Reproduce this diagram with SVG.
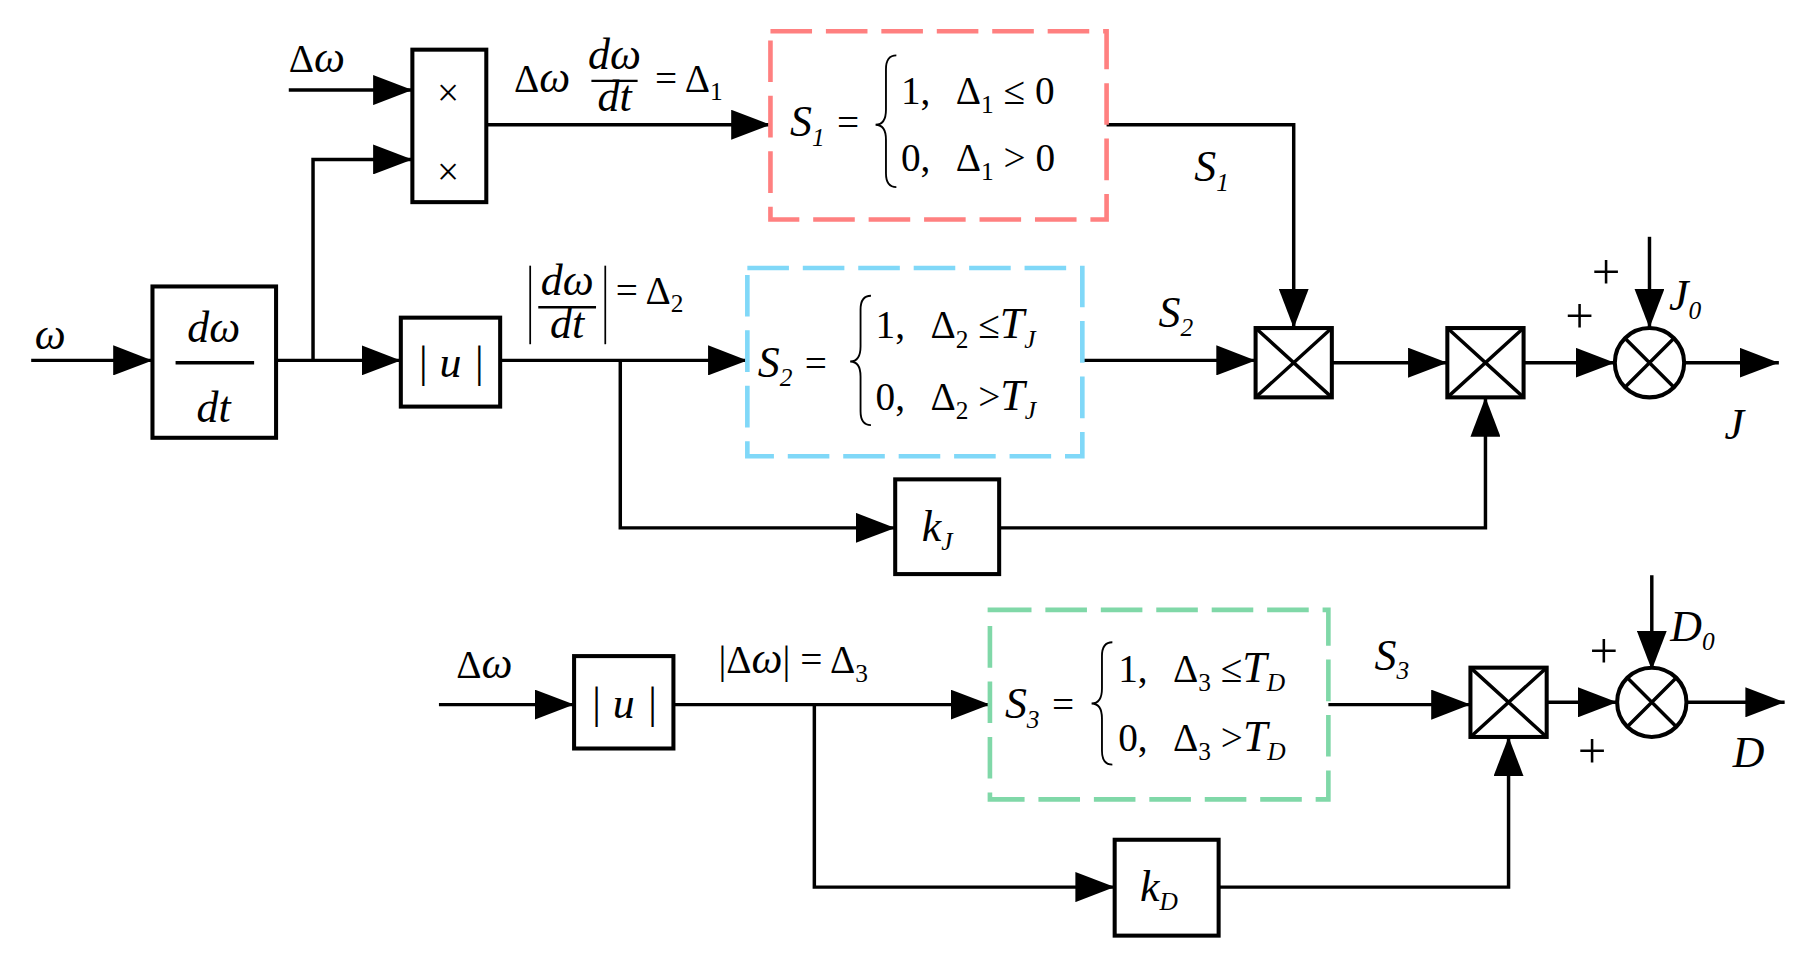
<svg xmlns="http://www.w3.org/2000/svg" width="1802" height="957" viewBox="0 0 1802 957">
<defs>
<marker id="ar" markerUnits="userSpaceOnUse" markerWidth="40" markerHeight="26" refX="34" refY="13" orient="auto"><path d="M0,0 L34,13 L0,26 Z" fill="#000"/></marker>
<style>
.ln{fill:none;stroke:#000;stroke-width:3}
.bx{fill:#fff;stroke:#000;stroke-width:3.5}
.t{font-family:"Liberation Serif",serif;font-style:italic;font-size:38px}
.u{font-family:"Liberation Serif",serif;font-size:34px}
.p{font-family:"Liberation Serif",serif;font-size:44px}
.s{font-family:"Liberation Serif",serif;font-size:22px}
.si{font-family:"Liberation Serif",serif;font-style:italic;font-size:22px}
.dr{fill:none;stroke:#FF8080;stroke-width:4;stroke-dasharray:36,12}
.db{fill:none;stroke:#80D8F8;stroke-width:4;stroke-dasharray:36,12}
.dg{fill:none;stroke:#80D8A8;stroke-width:4;stroke-dasharray:36,12}
.br{fill:none;stroke:#000;stroke-width:1.6}
</style>
</defs>
<rect width="1802" height="957" fill="#fff"/>
<g transform="scale(1.1551)">
<g id="connectors">
<path class="ln" d="M27,312 H132" marker-end="url(#ar)"/>
<path class="ln" d="M239,312 H347" marker-end="url(#ar)"/>
<path class="ln" d="M271,312 V138 H357" marker-end="url(#ar)"/>
<path class="ln" d="M250,78 H357" marker-end="url(#ar)"/>
<path class="ln" d="M421,108 H667" marker-end="url(#ar)"/>
<path class="ln" d="M433,312 H647" marker-end="url(#ar)"/>
<path class="ln" d="M537,312 V457 H775" marker-end="url(#ar)"/>
<path class="ln" d="M958,108 H1120 V284" marker-end="url(#ar)"/>
<path class="ln" d="M937,312 H1087" marker-end="url(#ar)"/>
<path class="ln" d="M1153,314 H1253" marker-end="url(#ar)"/>
<path class="ln" d="M865,457 H1286 V344" marker-end="url(#ar)"/>
<path class="ln" d="M1319,314 H1398" marker-end="url(#ar)"/>
<path class="ln" d="M1428,205 V284" marker-end="url(#ar)"/>
<path class="ln" d="M1458,314 H1540" marker-end="url(#ar)"/>
<path class="ln" d="M380,610 H497" marker-end="url(#ar)"/>
<path class="ln" d="M583,610 H857" marker-end="url(#ar)"/>
<path class="ln" d="M705,610 V768 H965" marker-end="url(#ar)"/>
<path class="ln" d="M1150,610 H1273" marker-end="url(#ar)"/>
<path class="ln" d="M1055,768 H1306 V638" marker-end="url(#ar)"/>
<path class="ln" d="M1339,608 H1400" marker-end="url(#ar)"/>
<path class="ln" d="M1430,498 V580" marker-end="url(#ar)"/>
<path class="ln" d="M1460,608 H1545" marker-end="url(#ar)"/>
</g>
<g id="labels">
<text class="t" x="30" y="302">ω</text>
<text class="u" x="250" y="62" font-size="38">Δ<tspan class="t">ω</tspan></text>
<text class="u" x="395" y="587" font-size="38">Δ<tspan class="t">ω</tspan></text>
<g id="eq1"><text class="u" x="445" y="80" font-size="28">Δ<tspan class="t" font-size="30">ω</tspan></text>
<text class="t" x="532" y="60" font-size="30" text-anchor="middle">dω</text>
<line x1="512" y1="70" x2="552" y2="70" stroke="#000" stroke-width="2"/>
<text class="t" x="532" y="96" font-size="30" text-anchor="middle">dt</text>
<text class="u" x="567" y="80" font-size="28">= Δ<tspan class="s" font-size="17" dy="7">1</tspan></text></g>
<g id="eq2"><line x1="459" y1="230" x2="459" y2="298" stroke="#000" stroke-width="1.5"/>
<line x1="524" y1="230" x2="524" y2="298" stroke="#000" stroke-width="1.5"/>
<text class="t" x="491" y="255" font-size="30" text-anchor="middle">dω</text>
<line x1="466" y1="266" x2="516" y2="266" stroke="#000" stroke-width="2"/>
<text class="t" x="491" y="293" font-size="30" text-anchor="middle">dt</text>
<text class="u" x="533" y="263" font-size="28">= Δ<tspan class="s" font-size="18" dy="7">2</tspan></text></g>
<g id="eq3"><text class="u" x="622" y="583" font-size="28">|Δ<tspan class="t">ω</tspan>| = Δ<tspan class="s" font-size="18" dy="7">3</tspan></text></g>
<text class="t" x="1034" y="157">S<tspan class="s" dy="8">1</tspan></text>
<text class="t" x="1003" y="283">S<tspan class="s" dy="8">2</tspan></text>
<text class="t" x="1190" y="580">S<tspan class="s" dy="8">3</tspan></text>
<text class="p" x="1378" y="250">+</text>
<text class="p" x="1355" y="288">+</text>
<text class="t" x="1445" y="268">J<tspan class="s" dy="8">0</tspan></text>
<text class="t" x="1493" y="380">J</text>
<text class="p" x="1376" y="578">+</text>
<text class="p" x="1366" y="665">+</text>
<text class="t" x="1446" y="555">D<tspan class="s" dy="8">0</tspan></text>
<text class="t" x="1500" y="664">D</text>
</g>
<g id="deriv"><rect class="bx" x="132" y="248" width="107" height="131"/>
<text class="t" x="185" y="296" text-anchor="middle" font-size="40">dω</text>
<line x1="152" y1="314" x2="220" y2="314" stroke="#000" stroke-width="3"/>
<text class="t" x="185" y="365" text-anchor="middle" font-size="40">dt</text></g>
<g id="mult"><rect class="bx" x="357" y="43" width="64" height="132"/>
<text class="u" x="388" y="92" text-anchor="middle" font-size="40">×</text><text class="u" x="388" y="160" text-anchor="middle" font-size="40">×</text></g>
<g id="abs1"><rect class="bx" x="347" y="275" width="86" height="77"/>
<text class="t" x="390" y="326" text-anchor="middle" font-size="40">| u |</text></g>
<g id="abs2"><rect class="bx" x="497" y="568" width="86" height="80"/>
<text class="t" x="540" y="622" text-anchor="middle" font-size="40">| u |</text></g>
<g id="kj"><rect class="bx" x="775" y="415" width="90" height="82"/>
<text class="t" x="798" y="468" font-size="40">k<tspan class="si" dy="8">J</tspan></text></g>
<g id="kd"><rect class="bx" x="965" y="727" width="90" height="83"/>
<text class="t" x="987" y="780" font-size="40">k<tspan class="si" dy="8">D</tspan></text></g>
<g id="s1"><rect class="dr" x="667" y="27" width="291" height="163"/>
<text class="t" x="684" y="118" font-size="34">S<tspan class="s" dy="8">1</tspan><tspan class="u" dy="-8"> =</tspan></text>
<path class="br" d="M776,48 Q767,48 767,60 V95 Q767,108 758,108 Q767,108 767,121 V150 Q767,162 776,162"/>
<text class="u" x="780" y="90" font-size="32">1,<tspan dx="22">Δ</tspan><tspan class="s" dy="8">1</tspan><tspan dy="-8"> ≤ 0</tspan></text>
<text class="u" x="780" y="148" font-size="32">0,<tspan dx="22">Δ</tspan><tspan class="s" dy="8">1</tspan><tspan dy="-8"> &gt; 0</tspan></text></g>
<g id="s2"><rect class="db" x="647" y="232" width="290" height="163"/>
<text class="t" x="656" y="326" font-size="34">S<tspan class="s" dy="8">2</tspan><tspan class="u" dy="-8"> =</tspan></text>
<path class="br" d="M754,256 Q745,256 745,268 V300 Q745,313 736,313 Q745,313 745,326 V356 Q745,368 754,368"/>
<text class="u" x="758" y="293" font-size="32">1,<tspan dx="22">Δ</tspan><tspan class="s" dy="8">2</tspan><tspan dy="-8"> ≤</tspan><tspan class="t" font-size="34">T</tspan><tspan class="si" font-size="16" dy="8">J</tspan></text>
<text class="u" x="758" y="355" font-size="32">0,<tspan dx="22">Δ</tspan><tspan class="s" dy="8">2</tspan><tspan dy="-8"> &gt;</tspan><tspan class="t" font-size="34">T</tspan><tspan class="si" font-size="16" dy="8">J</tspan></text></g>
<g id="s3"><rect class="dg" x="857" y="528" width="293" height="164"/>
<text class="t" x="870" y="622" font-size="34">S<tspan class="s" dy="8">3</tspan><tspan class="u" dy="-8"> =</tspan></text>
<path class="br" d="M963,556 Q954,556 954,568 V596 Q954,609 945,609 Q954,609 954,622 V650 Q954,662 963,662"/>
<text class="u" x="968" y="590" font-size="32">1,<tspan dx="22">Δ</tspan><tspan class="s" dy="8">3</tspan><tspan dy="-8"> ≤</tspan><tspan class="t" font-size="34">T</tspan><tspan class="si" font-size="16" dy="8">D</tspan></text>
<text class="u" x="968" y="650" font-size="32">0,<tspan dx="22">Δ</tspan><tspan class="s" dy="8">3</tspan><tspan dy="-8"> &gt;</tspan><tspan class="t" font-size="34">T</tspan><tspan class="si" font-size="16" dy="8">D</tspan></text></g>
<g id="m1"><rect class="bx" x="1087" y="284" width="66" height="60"/><path class="ln" d="M1087,284 L1153,344 M1153,284 L1087,344"/></g>
<g id="m2"><rect class="bx" x="1253" y="284" width="66" height="60"/><path class="ln" d="M1253,284 L1319,344 M1319,284 L1253,344"/></g>
<g id="m3"><rect class="bx" x="1273" y="578" width="66" height="60"/><path class="ln" d="M1273,578 L1339,638 M1339,578 L1273,638"/></g>
<g id="sum1"><ellipse class="bx" cx="1428" cy="314" rx="30" ry="30"/><path class="ln" d="M1407,293 L1449,335 M1449,293 L1407,335"/></g>
<g id="sum2"><ellipse class="bx" cx="1430" cy="608" rx="30" ry="30"/><path class="ln" d="M1409,587 L1451,629 M1451,587 L1409,629"/></g>
</g>
</svg>
